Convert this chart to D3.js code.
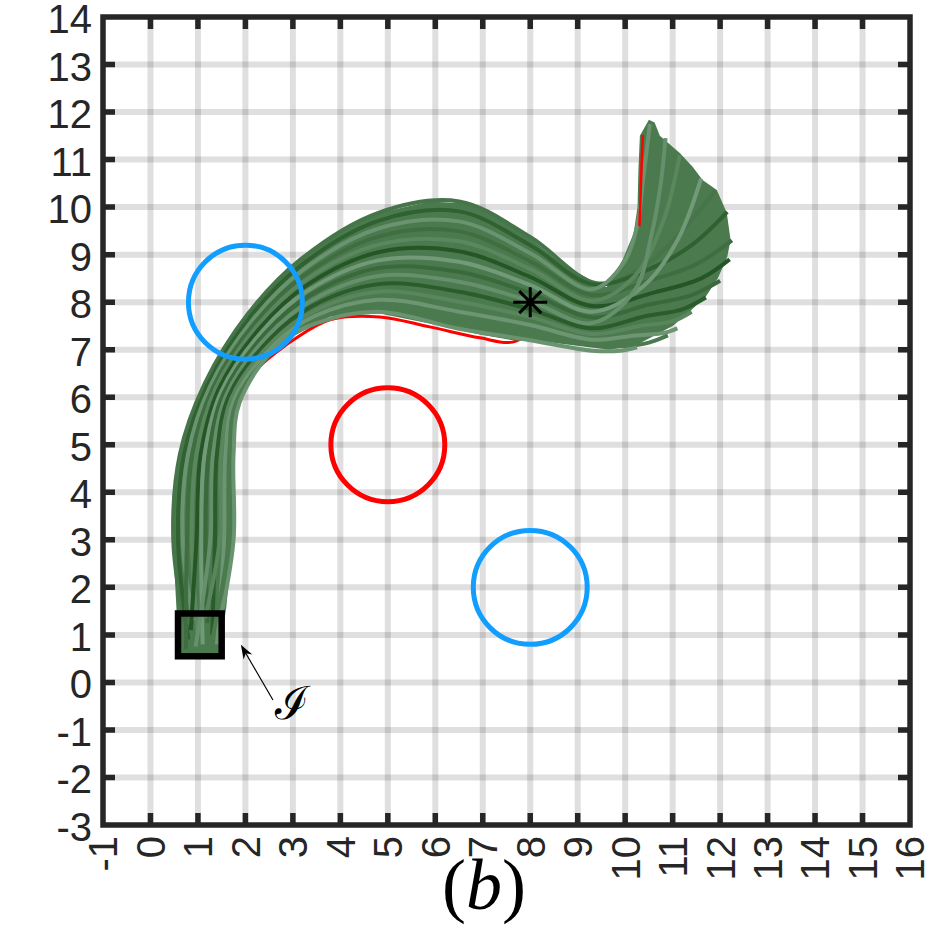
<!DOCTYPE html>
<html>
<head>
<meta charset="utf-8">
<script src="https://cdn.jsdelivr.net/npm/d3@7"></script>
<style>
  body { margin: 0; background: #fff; }
  svg { display: block; }
</style>
</head>
<body>
<div id="chart"></div>
<script>
// axis ranges and ticks
const xDomain = [-1, 16];
const yDomain = [-3, 14];
const xTicks = d3.range(-1, 17);
const yTicks = d3.range(-3, 15);

// obstacles / goal / initial set
const obstacleRadius = 1.2;
const safeCircles = [[2, 8], [8, 2]];
const unsafeCircles = [[5, 5]];
const initSet = [0.58, 0.55, 1.5, 1.45]; // x0, y0, x1, y1
const goalPoint = [8, 8];
const arrowTail = [2.58, -0.37];
const arrowHead = [1.905, 0.79];
const initLabelPos = [2.98, -0.78];

// outline of the trajectory bundle
const bundleOutline = [
  [0.62, 0.62], [0.55, 1.5], [0.47, 3.0], [0.52, 4.0], [0.58, 4.6], [0.77, 5.37],
  [1.04, 6.09], [1.4, 6.64], [1.82, 7.27], [2.09, 7.77], [2.6, 8.4], [3.15, 8.89],
  [4.14, 9.58], [4.83, 9.88], [5.88, 10.12], [6.58, 10.08], [7.29, 9.85], [7.99, 9.35],
  [8.68, 8.8], [9.3, 8.45], [9.61, 8.32], [9.95, 8.9], [10.18, 9.45], [10.26, 10.0],
  [10.28, 10.8], [10.31, 11.5], [10.5, 11.84], [10.62, 11.78], [10.73, 11.5], [11.15, 11.14],
  [11.42, 10.85], [11.63, 10.57], [11.93, 10.36], [12.14, 9.88], [12.22, 9.31], [12.15, 8.95],
  [11.95, 8.5], [11.7, 8.12], [11.4, 7.84], [11.0, 7.5], [10.24, 7.1], [9.67, 7.0],
  [8.35, 7.16], [7.63, 7.2], [6.94, 7.32], [5.88, 7.55], [4.83, 7.76], [3.78, 7.7],
  [3.0, 7.28], [2.31, 6.75], [2.0, 6.4], [1.8, 5.6], [1.75, 4.5], [1.74, 3.1],
  [1.6, 1.6], [1.45, 0.62]
];

// individual trajectories, outer (top) lane first
const trajectories = [
  [[0.72,1.2],[0.48,3.0],[0.62,4.8],[1.15,6.30],[2.05,7.75],[3.15,8.89],[4.8,9.88],[6.5,10.12],[8.0,9.37],[9.4,8.4],[10.4,8.75],[11.2,9.5],[11.9,10.35]],
  [[0.8,0.9],[0.58,3.0],[0.71,4.8],[1.21,6.27],[2.10,7.69],[3.18,8.78],[4.8,9.71],[6.5,9.91],[8.0,9.20],[9.3,8.38],[10.4,8.65],[11.4,9.2],[12.15,9.9]],
  [[0.9,1.3],[0.68,3.0],[0.79,4.8],[1.26,6.24],[2.16,7.64],[3.20,8.67],[4.8,9.55],[6.5,9.70],[8.0,9.03],[9.3,8.27],[9.95,8.8],[10.25,9.6],[10.38,10.6],[10.52,11.75]],
  [[0.75,0.7],[0.77,3.0],[0.88,4.8],[1.32,6.21],[2.21,7.58],[3.23,8.56],[4.8,9.38],[6.5,9.49],[8.0,8.86],[9.3,8.15],[10.5,8.45],[11.5,8.8],[12.25,9.3]],
  [[1.0,1.0],[0.87,3.0],[0.97,4.8],[1.37,6.18],[2.27,7.53],[3.26,8.46],[4.8,9.21],[6.5,9.28],[8.0,8.70],[9.3,8.03],[10.2,8.55],[10.8,9.7],[11.15,11.1]],
  [[0.85,1.1],[0.97,3.0],[1.06,4.8],[1.43,6.15],[2.32,7.47],[3.28,8.35],[4.8,9.05],[6.5,9.07],[8.0,8.53],[9.3,7.92],[10.6,8.2],[11.6,8.5],[12.2,8.9]],
  [[1.1,0.8],[1.07,3.0],[1.14,4.8],[1.49,6.12],[2.37,7.41],[3.31,8.24],[4.8,8.88],[6.5,8.85],[8.0,8.36],[9.3,7.80],[10.4,8.35],[11.1,9.3],[11.6,10.6]],
  [[1.2,1.25],[1.16,3.0],[1.23,4.8],[1.54,6.08],[2.43,7.36],[3.34,8.13],[4.8,8.72],[6.5,8.64],[8.0,8.19],[9.3,7.68],[10.5,7.95],[11.4,8.15],[12.0,8.45]],
  [[0.95,0.75],[1.26,3.0],[1.32,4.8],[1.60,6.05],[2.48,7.30],[3.37,8.02],[4.8,8.55],[6.5,8.43],[8.0,8.02],[9.3,7.56],[10.2,8.25],[10.55,9.4],[10.75,10.5],[10.85,11.45]],
  [[1.3,1.0],[1.36,3.0],[1.40,4.8],[1.65,6.02],[2.53,7.24],[3.39,7.91],[4.8,8.38],[6.5,8.22],[8.0,7.85],[9.3,7.45],[10.4,7.7],[11.2,7.85],[11.7,8.1]],
  [[1.15,1.35],[1.46,3.0],[1.49,4.8],[1.71,5.99],[2.59,7.19],[3.42,7.80],[4.8,8.22],[6.5,8.01],[8.0,7.69],[9.3,7.33],[10.3,7.5],[11.0,7.6],[11.4,7.8]],
  [[1.4,0.8],[1.55,3.0],[1.58,4.8],[1.77,5.96],[2.64,7.13],[3.45,7.70],[4.8,8.05],[6.5,7.80],[8.0,7.52],[9.3,7.21],[10.2,7.3],[10.8,7.35],[11.1,7.45]],
  [[1.25,0.65],[1.65,3.0],[1.66,4.8],[1.82,5.93],[2.70,7.08],[3.47,7.62],[4.8,7.92],[6.5,7.62],[8.0,7.35],[9.3,7.10],[10.0,7.08],[10.5,7.15],[10.9,7.3]],
  [[1.45,1.2],[1.75,3.0],[1.75,4.8],[1.88,5.90],[2.70,7.12],[3.50,7.56],[4.8,7.80],[6.5,7.44],[8.0,7.2],[9.3,6.98],[9.9,6.98],[10.25,7.05]]
];

// the one trajectory that violates the constraint: arc part sits under the bundle,
// the end part shows on the left edge of the fan
const unsafeArc = [
  [1.3,0.8],[1.65,3.0],[1.66,4.8],[1.88,6.05],[2.2,6.55],[2.75,7.02],[3.0,7.2],[3.78,7.63],
  [4.83,7.69],[5.88,7.48],[6.94,7.25],[7.63,7.16],[8.2,7.5],[9.0,7.9]
];
const unsafeEnd = [[10.3,9.6],[10.33,10.4],[10.35,11.0],[10.37,11.52]];

// styles
const greens = ["#47754a", "#2f6131", "#6a9370", "#3f6e41", "#5b875e", "#245626", "#739a78",
                "#3a6a3c", "#66906b", "#2a5c2c", "#5a865d", "#6d9572", "#4c7a4f", "#6a9370"];
const bundleFill = "#50805a";
const axisColor = "#262626";
const blue = "#129eff";
const red = "#ff0000";

const width = 951, height = 926;
const margin = {top: 17, right: 41, bottom: 101, left: 103};

const svg = d3.select("#chart").append("svg")
  .attr("width", width)
  .attr("height", height)
  .style("background", "#fff");

const x = d3.scaleLinear().domain(xDomain).range([margin.left, width - margin.right]);
const y = d3.scaleLinear().domain(yDomain).range([height - margin.bottom, margin.top]);
const unit = x(1) - x(0);

// grid
const grid = svg.append("g").attr("stroke", axisColor).attr("stroke-opacity", 0.15).attr("stroke-width", 6);
grid.selectAll(".gx").data(xTicks.slice(1, -1)).join("line")
  .attr("x1", d => x(d)).attr("x2", d => x(d))
  .attr("y1", y(yDomain[0])).attr("y2", y(yDomain[1]));
grid.selectAll(".gy").data(yTicks.slice(1, -1)).join("line")
  .attr("y1", d => y(d)).attr("y2", d => y(d))
  .attr("x1", x(xDomain[0])).attr("x2", x(xDomain[1]));

const curve = d3.line().x(d => x(d[0])).y(d => y(d[1])).curve(d3.curveCatmullRom.alpha(0.5));
const outline = d3.line().x(d => x(d[0])).y(d => y(d[1])).curve(d3.curveLinearClosed);

// red trajectory under the bundle
svg.append("path")
  .attr("d", curve(unsafeArc))
  .attr("fill", "none")
  .attr("stroke", red)
  .attr("stroke-width", 3);

svg.append("path")
  .attr("d", outline(bundleOutline))
  .attr("fill", "#4b7a4e");

svg.append("g")
  .selectAll("path")
  .data(trajectories)
  .join("path")
  .attr("d", d => curve(d))
  .attr("fill", "none")
  .attr("stroke", (d, i) => greens[i % greens.length])
  .attr("stroke-width", 4)
  .attr("stroke-linecap", "butt");

svg.append("path")
  .attr("d", curve(unsafeEnd))
  .attr("fill", "none")
  .attr("stroke", red)
  .attr("stroke-width", 2.5);

// obstacles
svg.append("g")
  .selectAll("circle")
  .data(safeCircles)
  .join("circle")
  .attr("cx", d => x(d[0])).attr("cy", d => y(d[1]))
  .attr("r", obstacleRadius * unit)
  .attr("fill", "none").attr("stroke", blue).attr("stroke-width", 5);

svg.append("g")
  .selectAll("circle")
  .data(unsafeCircles)
  .join("circle")
  .attr("cx", d => x(d[0])).attr("cy", d => y(d[1]))
  .attr("r", obstacleRadius * unit)
  .attr("fill", "none").attr("stroke", red).attr("stroke-width", 5);

// initial set
svg.append("rect")
  .attr("x", x(initSet[0])).attr("y", y(initSet[3]))
  .attr("width", x(initSet[2]) - x(initSet[0]))
  .attr("height", y(initSet[1]) - y(initSet[3]))
  .attr("fill", "none").attr("stroke", "#000").attr("stroke-width", 6.5);

// goal marker (asterisk)
const gx = x(goalPoint[0]), gy = y(goalPoint[1]);
svg.append("path")
  .attr("d", `M${gx - 17},${gy}H${gx + 17}M${gx},${gy - 15}V${gy + 15}` +
             `M${gx - 11},${gy - 11}L${gx + 11},${gy + 11}M${gx - 11},${gy + 11}L${gx + 11},${gy - 11}`)
  .attr("stroke", "#000").attr("stroke-width", 3).attr("fill", "none");

// annotation arrow
const ax0 = x(arrowTail[0]), ay0 = y(arrowTail[1]);
const ax1 = x(arrowHead[0]), ay1 = y(arrowHead[1]);
const ang = Math.atan2(ay1 - ay0, ax1 - ax0);
const hl = 14, hw = 5;
svg.append("line")
  .attr("x1", ax0).attr("y1", ay0)
  .attr("x2", ax1 - Math.cos(ang) * 8).attr("y2", ay1 - Math.sin(ang) * 8)
  .attr("stroke", "#000").attr("stroke-width", 1.2);
svg.append("path")
  .attr("d", `M${ax1},${ay1}` +
    `L${ax1 - hl * Math.cos(ang) + hw * Math.sin(ang)},${ay1 - hl * Math.sin(ang) - hw * Math.cos(ang)}` +
    `L${ax1 - 0.7 * hl * Math.cos(ang)},${ay1 - 0.7 * hl * Math.sin(ang)}` +
    `L${ax1 - hl * Math.cos(ang) - hw * Math.sin(ang)},${ay1 - hl * Math.sin(ang) + hw * Math.cos(ang)}Z`)
  .attr("fill", "#000");

svg.append("text")
  .attr("x", x(initLabelPos[0])).attr("y", y(initLabelPos[1]))
  .attr("text-anchor", "middle")
  .style("font-family", "'DejaVu Serif', serif")
  .style("font-size", "46px")
  .text("ℐ");

// axes box + ticks on all four sides
const ax = svg.append("g").attr("stroke", axisColor).attr("stroke-width", 5.5);
const tl = 12;
ax.selectAll(".tb").data(xTicks.slice(1, -1)).join("path")
  .attr("d", d => `M${x(d)},${y(yDomain[0])}v${-tl}M${x(d)},${y(yDomain[1])}v${tl}`);
ax.selectAll(".tl").data(yTicks.slice(1, -1)).join("path")
  .attr("d", d => `M${x(xDomain[0])},${y(d)}h${tl}M${x(xDomain[1])},${y(d)}h${-tl}`);
ax.append("rect")
  .attr("x", x(xDomain[0])).attr("y", y(yDomain[1]))
  .attr("width", x(xDomain[1]) - x(xDomain[0]))
  .attr("height", y(yDomain[0]) - y(yDomain[1]))
  .attr("fill", "none");

const labels = svg.append("g")
  .style("font-family", "'Liberation Sans', Arial, sans-serif")
  .style("font-size", "40px")
  .attr("fill", axisColor);

labels.selectAll(".yl").data(yTicks).join("text")
  .attr("x", x(xDomain[0]) - 11)
  .attr("y", d => y(d))
  .attr("dy", "0.4em")
  .attr("text-anchor", "end")
  .text(d => d);

labels.selectAll(".xl").data(xTicks).join("text")
  .attr("transform", d => `translate(${x(d)},${y(yDomain[0]) + 11}) rotate(-90)`)
  .attr("dy", "0.36em")
  .attr("text-anchor", "end")
  .text(d => d);

// panel label
const pl = svg.append("text")
  .attr("x", 484).attr("y", 909)
  .attr("text-anchor", "middle")
  .style("font-family", "'Liberation Serif', 'Times New Roman', serif")
  .style("font-size", "72px")
  .attr("fill", "#000");
pl.append("tspan").text("(");
pl.append("tspan").style("font-style", "italic").text("b");
pl.append("tspan").text(")");
</script>
</body>
</html>
